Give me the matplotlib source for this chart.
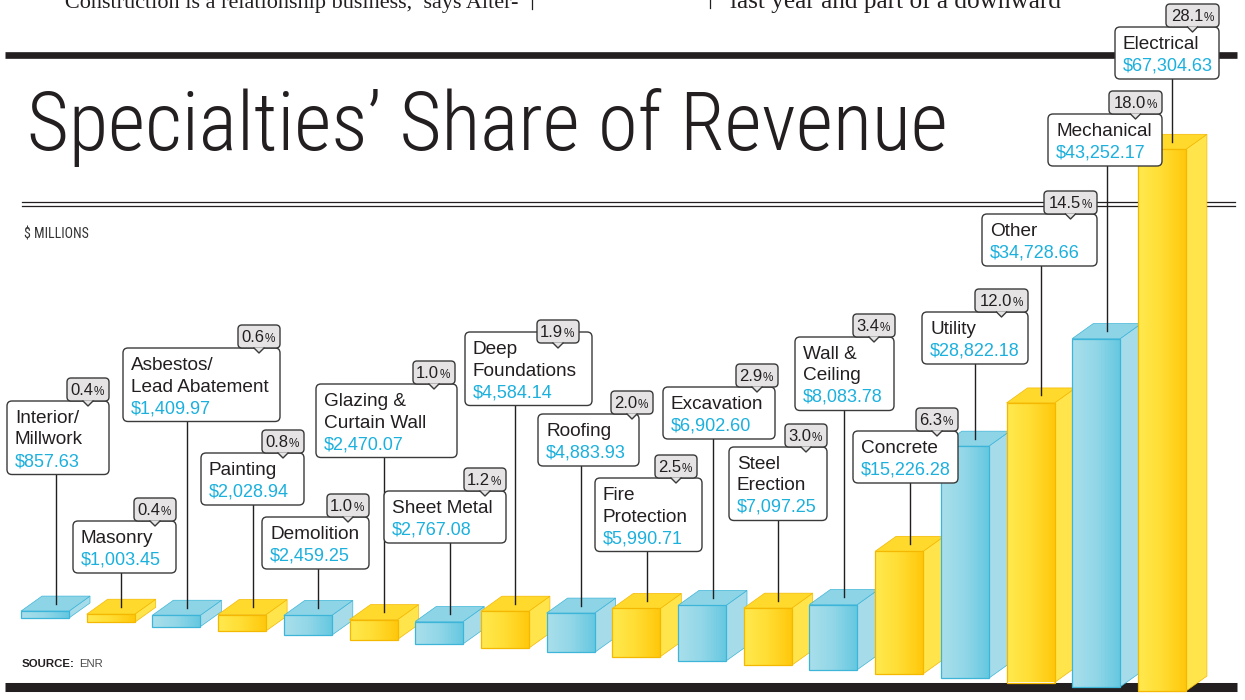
import matplotlib
matplotlib.use("Agg")
import matplotlib.pyplot as plt
import numpy as np
from matplotlib import font_manager
from matplotlib.colors import LinearSegmentedColormap
from matplotlib.patches import FancyBboxPatch, Polygon

# ---------------------------------------------------------------
# DATA ($ millions, share of total)
# ---------------------------------------------------------------
specialties = ["Interior/\nMillwork", "Masonry", "Asbestos/\nLead Abatement", "Painting",
               "Demolition", "Glazing &\nCurtain Wall", "Sheet Metal", "Deep\nFoundations",
               "Roofing", "Fire\nProtection", "Excavation", "Steel\nErection",
               "Wall &\nCeiling", "Concrete", "Utility", "Other", "Mechanical", "Electrical"]
revenue = [857.63, 1003.45, 1409.97, 2028.94, 2459.25, 2470.07, 2767.08, 4584.14,
           4883.93, 5990.71, 6902.60, 7097.25, 8083.78, 15226.28, 28822.18, 34728.66,
           43252.17, 67304.63]
share = [0.4, 0.4, 0.6, 0.8, 1.0, 1.0, 1.2, 1.9, 2.0, 2.5, 2.9, 3.0, 3.4, 6.3,
         12.0, 14.5, 18.0, 28.1]

# callout layout (pixels)
box_left = [7, 73, 123, 201, 262, 316, 384, 465, 538, 595, 663, 729, 795, 853, 922, 982, 1048, 1115]
box_top = [401, 521, 348, 453, 517, 384, 491, 332, 414, 478, 387, 447, 337, 431, 312, 214, 114, 27]
box_right = [109, 176, 280, 304, 369, 457, 506, 592, 639, 702, 775, 827, 894, 958, 1028, 1097, 1162, 1219]
tag_shift = [0, 0, 0, 0, 0, -2, 0, -13, 14, -5, 3, 0, 1, 0, 0, 0, 0, 0]
tag_drop = [0, 0, 0, 0, 0, 0, 0, 11, 0, 0, 0, 0, 0, 0, 0, 0, 0, 0]

INK = "#231f20"
CYAN = "#1cb0dd"
W, H = 1245, 700

have = {f.name for f in font_manager.fontManager.ttflist}
def first_font(*names):
    for n in names:
        if n in have:
            return n
    return "DejaVu Sans"

narrow = first_font("Roboto Condensed", "Liberation Sans Narrow", "Open Sans Condensed", "Roboto", "Lato")
sans = first_font("Liberation Sans", "Arial", "DejaVu Sans")
serif = first_font("Liberation Serif", "DejaVu Serif")

fig = plt.figure(figsize=(12.45, 7.0), dpi=100)
fig.patch.set_facecolor("white")

def pixel_axes():
    a = fig.add_axes([0, 0, 1, 1])
    a.set_xlim(0, W)
    a.set_ylim(H, 0)
    a.axis("off")
    a.patch.set_alpha(0)
    return a

bg = pixel_axes()
ax = fig.add_axes([0, 0, 1, 1])
ax.axis("off")
ax.patch.set_alpha(0)
fg = pixel_axes()

# ---------------------------------------------------------------
# PAGE FURNITURE
# ---------------------------------------------------------------
bg.plot([5, 1237], [54.5, 54.5], color=INK, lw=4.8, solid_capstyle="butt")
bg.plot([22, 1235], [201.5, 201.5], color=INK, lw=0.9)
bg.plot([22, 1235], [206, 206], color=INK, lw=0.9)
bg.plot([5, 1237], [687, 687], color=INK, lw=6.5, solid_capstyle="butt")
bg.plot([532, 532], [0, 9], color=INK, lw=0.9)
bg.plot([710, 710], [0, 8], color=INK, lw=0.9)

body1 = bg.text(55, 8, "\u201cConstruction is a relationship business,\u2019 says Alter-",
                family=serif, fontsize=15, color=INK, va="baseline")
body2 = bg.text(730, 8, "last year and part of a downward",
                family=serif, fontsize=15, color=INK, va="baseline")
title = bg.text(27, 150, "Specialties\u2019 Share of Revenue", family=narrow,
                weight="light", fontsize=60, color=INK, va="baseline")
units = bg.text(24, 239, "$ MILLIONS", family=narrow, fontsize=10, color="#333333",
                va="baseline")
bg.text(22, 667, "SOURCE:", family=sans, weight="bold", fontsize=8.2, color=INK, va="baseline")
bg.text(79, 667, "ENR", family=sans, fontsize=8.2, color="#4a4a4a", va="baseline")

fig.canvas.draw()
renderer = fig.canvas.get_renderer()
def fit(t, target):
    w = t.get_window_extent(renderer).width
    t.set_fontsize(t.get_fontsize() * target / w)

fit(body1, 467)
fit(body2, 333)
fit(title, 923)
fit(units, 65)

# ---------------------------------------------------------------
# 3D BARS
# ---------------------------------------------------------------
n = len(revenue)
idx = np.arange(n)
x0_px, pitch_px = 45.0, 65.7
px_per_unit = 8.05 / 1000
base_px, drop_px = 618.0, 4.3
xlim = (-x0_px / pitch_px, (W - x0_px) / pitch_px)
ylim = (-(H - base_px) / px_per_unit, base_px / px_per_unit)

bottoms = -idx * drop_px / px_per_unit
width = 48 / pitch_px
dx = 21 / pitch_px
dy = 15 / px_per_unit

palette = {
    "blue": dict(front=["#aadfeb", "#92d7e8", "#66c8e0"], side="#a6dcea", top="#8dd4e6", edge="#3db5d8"),
    "yellow": dict(front=["#ffe94f", "#ffdd33", "#ffc80c"], side="#ffe54b", top="#ffda2c", edge="#f5b800"),
}
grad = np.linspace(0, 1, 64).reshape(1, -1)

bars = ax.bar(idx, revenue, width, bottom=bottoms, color="none", linewidth=0.9)
tops_px = []
for i, bar in enumerate(bars):
    c = palette["blue" if i % 2 == 0 else "yellow"]
    z = 2 + i
    xa, xb = i - width / 2, i + width / 2
    b = bottoms[i]
    t = b + revenue[i]
    side = Polygon([(xb, b), (xb, t), (xb + dx, t + dy), (xb + dx, b + dy)],
                   closed=True, fc=c["side"], ec=c["edge"], lw=0.5, zorder=z)
    top = Polygon([(xa, t), (xb, t), (xb + dx, t + dy), (xa + dx, t + dy)],
                  closed=True, fc=c["top"], ec=c["edge"], lw=0.5, zorder=z)
    ax.add_patch(side)
    ax.add_patch(top)
    cmap = LinearSegmentedColormap.from_list("f%d" % i, c["front"])
    im = ax.imshow(grad, extent=(xa, xb, b, t), cmap=cmap, aspect="auto",
                   interpolation="bilinear", zorder=z + 0.1)
    im.set_clip_path(bar)
    bar.set_edgecolor(c["edge"])
    bar.set_zorder(z + 0.2)
    tops_px.append((i + dx / 2, t + dy / 2))

ax.set_xlim(*xlim)
ax.set_ylim(*ylim)

to_px = fg.transData.inverted()
tops_px = [to_px.transform(ax.transData.transform(p)) for p in tops_px]

# ---------------------------------------------------------------
# CALLOUTS
# ---------------------------------------------------------------
for i in range(n):
    L, T, R = box_left[i], box_top[i], box_right[i]
    lines = specialties[i].split("\n")
    nl = len(lines) + 1
    hb = 9 + 21.5 * nl
    lx, ly = tops_px[i]
    fg.plot([lx, lx], [T + hb, ly], color=INK, lw=1.0, zorder=1)
    fg.add_patch(FancyBboxPatch((L, T), R - L, hb, boxstyle="round,pad=0,rounding_size=5",
                                fc="white", ec="#3a3a3a", lw=1.0, zorder=2))
    for k, s in enumerate(lines):
        fg.text(L + 8, T + 22 + 21.5 * k, s, family=sans, fontsize=13.7, color=INK,
                va="baseline", zorder=3)
    fg.text(L + 8, T + 22 + 21.5 * len(lines), "${:,.2f}".format(revenue[i]), family=sans,
            fontsize=13, color=CYAN, va="baseline", zorder=3)

    label = "{:.1f}".format(share[i])
    tr = R + tag_shift[i]
    tw = 42 if len(label) <= 3 else 53
    tt = T - 23 + tag_drop[i]
    fg.add_patch(FancyBboxPatch((tr - tw, tt), tw, 23, boxstyle="round,pad=0,rounding_size=4",
                                fc="#e5e3e3", ec="#3a3a3a", lw=1.0, zorder=4))
    cx = tr - tw / 2
    fg.add_patch(Polygon([(cx - 5, tt + 22.4), (cx + 5, tt + 22.4), (cx, tt + 28)],
                         closed=True, fc="#e5e3e3", ec="none", zorder=5))
    fg.plot([cx - 5, cx, cx + 5], [tt + 23, tt + 28, tt + 23], color="#3a3a3a", lw=1.0, zorder=5)
    fg.text(tr - 16, tt + 17, label, family=sans, fontsize=12, color=INK,
            ha="right", va="baseline", zorder=6)
    fg.text(tr - 15.5, tt + 17, "%", family=sans, fontsize=8.5, color=INK,
            ha="left", va="baseline", zorder=6)

fig.savefig("out.png", dpi=100, facecolor="white")
